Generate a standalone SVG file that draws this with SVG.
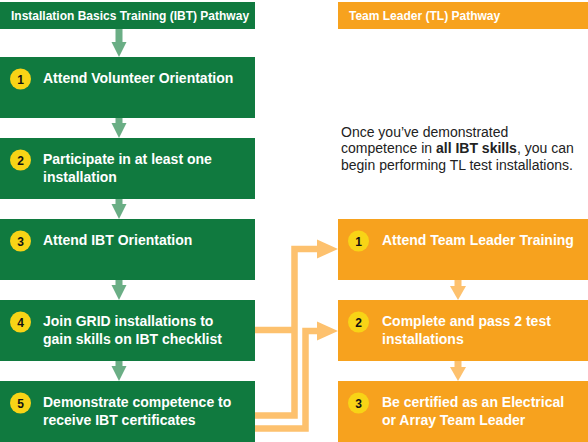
<svg xmlns="http://www.w3.org/2000/svg" width="588" height="442" viewBox="0 0 588 442">
<style>
.g{fill:#107a3f}
.o{fill:#f7a21e}
.badge{fill:#f8d416}
.num{font-family:"Liberation Sans",Arial,sans-serif;font-weight:bold;font-size:12px;fill:#111;text-anchor:middle}
.t{font-family:"Liberation Sans",Arial,sans-serif;font-weight:bold;font-size:14px;fill:#fff}
.h{font-family:"Liberation Sans",Arial,sans-serif;font-weight:bold;font-size:12px;fill:#fff}
.note{font-family:"Liberation Sans",Arial,sans-serif;font-size:14px;fill:#222}
.ga{fill:#6aae85}
.oa{fill:#fdc16e}
.ol{fill:none;stroke:#fdc16e;stroke-width:6.5}
</style>
<rect width="588" height="442" fill="#fff"/>
<g id="connectors">
  <!-- green flow arrows -->
  <rect class="ga" x="115.5" y="29" width="7" height="13"/><polygon class="ga" points="111.5,42 126.5,42 119,57"/>
  <rect class="ga" x="115.5" y="118" width="7" height="5"/><polygon class="ga" points="111.5,123 126.5,123 119,138"/>
  <rect class="ga" x="115.5" y="199" width="7" height="5"/><polygon class="ga" points="111.5,204 126.5,204 119,219"/>
  <rect class="ga" x="115.5" y="280" width="7" height="5"/><polygon class="ga" points="111.5,285 126.5,285 119,300"/>
  <rect class="ga" x="115.5" y="361" width="7" height="5"/><polygon class="ga" points="111.5,366 126.5,366 119,381"/>
  <!-- orange flow arrows -->
  <rect class="oa" x="454.5" y="280" width="7" height="6"/><polygon class="oa" points="450,286 466,286 458,300"/>
  <rect class="oa" x="454.5" y="361" width="7" height="6"/><polygon class="oa" points="450,367 466,367 458,381"/>
  <!-- cross connectors -->
  <path class="ol" d="M255,415.5 H294.5 V249 H319"/>
  <path class="ol" d="M255,330 H294.5"/>
  <polygon class="oa" points="317,239.5 338,249 317,258.5"/>
  <path class="ol" d="M255,428.5 H305.5 V331 H319"/>
  <polygon class="oa" points="317,321.5 338,331 317,340.5"/>
</g>
<g id="ibt-header">
  <rect class="g" x="0" y="2" width="255" height="27"/>
  <text class="h" x="11" y="19.5">Installation Basics Training (IBT) Pathway</text>
</g>
<g id="ibt-1">
  <rect class="g" x="0" y="57" width="255" height="61"/>
  <circle class="badge" cx="20.5" cy="79" r="10.5"/><text class="num" x="20.5" y="83.5">1</text>
  <text class="t" x="43" y="83">Attend Volunteer Orientation</text>
</g>
<g id="ibt-2">
  <rect class="g" x="0" y="138" width="255" height="61"/>
  <circle class="badge" cx="20.5" cy="160" r="10.5"/><text class="num" x="20.5" y="164.5">2</text>
  <text class="t" x="43" y="164">Participate in at least one</text>
  <text class="t" x="43" y="182">installation</text>
</g>
<g id="ibt-3">
  <rect class="g" x="0" y="219" width="255" height="61"/>
  <circle class="badge" cx="20.5" cy="241" r="10.5"/><text class="num" x="20.5" y="245.5">3</text>
  <text class="t" x="43" y="245">Attend IBT Orientation</text>
</g>
<g id="ibt-4">
  <rect class="g" x="0" y="300" width="255" height="61"/>
  <circle class="badge" cx="20.5" cy="322" r="10.5"/><text class="num" x="20.5" y="326.5">4</text>
  <text class="t" x="43" y="326">Join GRID installations to</text>
  <text class="t" x="43" y="344">gain skills on IBT checklist</text>
</g>
<g id="ibt-5">
  <rect class="g" x="0" y="381" width="255" height="61"/>
  <circle class="badge" cx="20.5" cy="403" r="10.5"/><text class="num" x="20.5" y="407.5">5</text>
  <text class="t" x="43" y="407">Demonstrate competence to</text>
  <text class="t" x="43" y="425">receive IBT certificates</text>
</g>
<g id="tl-header">
  <rect class="o" x="338" y="2" width="250" height="27"/>
  <text class="h" x="349" y="19.5">Team Leader (TL) Pathway</text>
</g>
<g id="note">
  <text class="note" x="341" y="136.5">Once you’ve demonstrated</text>
  <text class="note" x="341" y="153">competence in <tspan font-weight="bold">all IBT skills</tspan>, you can</text>
  <text class="note" x="341" y="169.5">begin performing TL test installations.</text>
</g>
<g id="tl-1">
  <rect class="o" x="338" y="219" width="250" height="61"/>
  <circle class="badge" cx="358.5" cy="241" r="10.5"/><text class="num" x="358.5" y="245.5">1</text>
  <text class="t" x="382" y="245">Attend Team Leader Training</text>
</g>
<g id="tl-2">
  <rect class="o" x="338" y="300" width="250" height="61"/>
  <circle class="badge" cx="358.5" cy="322" r="10.5"/><text class="num" x="358.5" y="326.5">2</text>
  <text class="t" x="382" y="326">Complete and pass 2 test</text>
  <text class="t" x="382" y="344">installations</text>
</g>
<g id="tl-3">
  <rect class="o" x="338" y="381" width="250" height="61"/>
  <circle class="badge" cx="358.5" cy="403" r="10.5"/><text class="num" x="358.5" y="407.5">3</text>
  <text class="t" x="382" y="407">Be certified as an Electrical</text>
  <text class="t" x="382" y="425">or Array Team Leader</text>
</g>
</svg>
